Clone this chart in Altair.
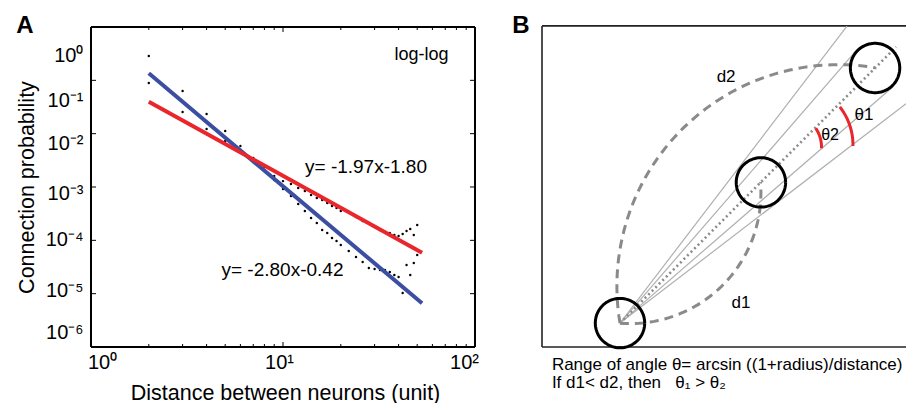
import altair as alt
import numpy as np
import pandas as pd

# ======================= Panel A data (log-log) =======================
dist = [2, 3, 4, 5, 6, 7, 8, 9, 10, 11, 12, 13, 14, 15, 16, 17, 18, 19, 20,
        22, 24, 26, 28, 30, 32, 34, 36, 38, 40, 42, 44, 46, 48, 50]
prob_upper = [0.286, 0.0631, 0.0234, 0.0112, 0.00587, 0.00350, 0.00237, 0.00161,
              0.00129, 0.00114, 0.000957, 0.000841, 0.000708, 0.000622, 0.000570,
              0.000501, 0.000440, 0.000404, 0.000355,
              0.000340, 0.000274, 0.000230, 0.000211, 0.000186, 0.000156, 0.000143,
              0.000137, 0.000126, 0.000121, 0.000131, 0.000150, 0.000163, 0.000126,
              0.000194]
prob_lower = [0.0891, 0.0255, 0.0122, 0.00728, 0.00494, 0.00294, 0.00208, 0.00135,
              0.000917, 0.000678, 0.000480, 0.000355, 0.000262, 0.000211, 0.000156,
              0.000137, 0.000111, 0.0000971, 0.0000817,
              0.0000631, 0.0000487, 0.0000393, 0.0000303, 0.0000290, 0.0000278,
              0.0000278, 0.0000255, 0.0000224, 0.0000205, 0.0000103, 0.0000344,
              0.0000224, 0.0000376, 0.0000531]

fit_dist = [2, 53]
fit_blue = [0.1355, 6.6e-6]     # y= -2.80x-0.42
fit_red = [0.0398, 5.86e-5]     # y= -1.97x-1.80

x_ticks_major = [1, 10, 100]
x_tick_labels = ["10⁰", "10¹", "10²"]
x_ticks_minor = [2, 3, 4, 5, 6, 7, 8, 9, 20, 30, 40, 50, 60, 70, 80, 90]
y_ticks_major = [1, 1e-1, 1e-2, 1e-3, 1e-4, 1e-5, 1e-6]
y_tick_labels = ["10⁰", "10⁻¹", "10⁻²", "10⁻³", "10⁻⁴", "10⁻⁵", "10⁻⁶"]

ann_text = ["log-log", "y= -1.97x-1.80", "y= -2.80x-0.42"]
ann_x = [52.65, 27.06, 9.94]
ann_y = [0.305, 0.00242, 2.72e-5]
ann_size = [18, 19, 19]

panel_a_label = ["A"]
panel_a_pos = [0.453, 1.044]

# label shifts (style)
x_label_shift = [11, -4, -11]
y_label_shift = [28, 20, 10, 6, -1, -3, -15]

WA, HA = 384, 320
FONT = "Liberation Sans"

xsA = alt.Scale(type="log", domain=[1, 100], range=[0, WA], nice=False)
ysA = alt.Scale(type="log", domain=[1e-6, 1], range=[HA, 0], nice=False)

x_lab_expr = "[" + ",".join("'%s'" % s for s in x_tick_labels) + "][round(log(datum.value)/LN10)]"
y_lab_expr = "[" + ",".join("'%s'" % s for s in y_tick_labels) + "][round(-log(datum.value)/LN10)]"
x_off_expr = "[" + ",".join(str(v) for v in x_label_shift) + "][round(log(datum.value)/LN10)]"
y_off_expr = "[" + ",".join(str(v) for v in y_label_shift) + "][round(-log(datum.value)/LN10)]"

xaxisA = alt.Axis(values=x_ticks_major, labelExpr=x_lab_expr,
                  labelOffset=alt.ExprRef(expr=x_off_expr),
                  ticks=False, domain=False, grid=False, labelFlush=False,
                  labelOverlap=False, labelFontSize=20, labelPadding=5,
                  labelColor="black", labelFont=FONT,
                  title="Distance between neurons (unit)", titleFontSize=21.5,
                  titleFontWeight="normal", titleColor="black", titleFont=FONT,
                  titleX=194, titleY=52, titleBaseline="alphabetic")
yaxisA = alt.Axis(values=y_ticks_major, labelExpr=y_lab_expr,
                  labelOffset=alt.ExprRef(expr=y_off_expr),
                  ticks=False, domain=False, grid=False, labelFlush=False,
                  labelOverlap=False, labelFontSize=20, labelPadding=8,
                  labelColor="black", labelFont=FONT,
                  title="Connection probability", titleFontSize=21.5,
                  titleFontWeight="normal", titleColor="black", titleFont=FONT,
                  titleX=-58, titleBaseline="alphabetic")


def XA(f):
    return alt.X(f, type="quantitative", scale=xsA, axis=xaxisA)


def YA(f):
    return alt.Y(f, type="quantitative", scale=ysA, axis=yaxisA)


pts = pd.DataFrame({"d": dist + dist, "p": prob_upper + prob_lower})
fits = pd.DataFrame({"d": fit_dist + fit_dist, "p": fit_blue + fit_red,
                     "fit": ["blue"] * 2 + ["red"] * 2})
frameA = pd.DataFrame({"x": [1, 1, 1, 100], "x2": [100, 100, 1, 100],
                       "y": [1, 1e-6, 1e-6, 1e-6], "y2": [1, 1e-6, 1, 1]})
anns = pd.DataFrame({"t": ann_text, "x": ann_x, "y": ann_y, "s": ann_size})

frame_a = alt.Chart(frameA).mark_rule(color="black", strokeWidth=2).encode(
    x=XA("x"), x2="x2", y=YA("y"), y2="y2")


def xticks(vals, length):
    df = pd.DataFrame({"t": vals})
    bot = alt.Chart(df).mark_rule(color="black", strokeWidth=1).encode(
        x=XA("t"), y=alt.value(HA), y2=alt.value(HA - length))
    top = alt.Chart(df).mark_rule(color="black", strokeWidth=1).encode(
        x=XA("t"), y=alt.value(0), y2=alt.value(length))
    return [bot, top]


def yticks(vals, length):
    df = pd.DataFrame({"t": vals})
    left = alt.Chart(df).mark_rule(color="black", strokeWidth=1).encode(
        y=YA("t"), x=alt.value(0), x2=alt.value(length))
    right = alt.Chart(df).mark_rule(color="black", strokeWidth=1).encode(
        y=YA("t"), x=alt.value(WA), x2=alt.value(WA - length))
    return [left, right]


tick_layers = xticks(x_ticks_minor, 3) + xticks([10], 5) + yticks(y_ticks_major[1:-1], 5)

points = alt.Chart(pts).mark_circle(size=6, color="black", opacity=1).encode(
    x=XA("d"), y=YA("p"))
lines = alt.Chart(fits).mark_line(strokeWidth=4).encode(
    x=XA("d"), y=YA("p"), detail="fit:N",
    color=alt.Color("fit:N", scale=alt.Scale(domain=["blue", "red"],
                                             range=["#3B4EA2", "#E8262B"]),
                    legend=None))
texts_a = []
for i in range(len(ann_text)):
    texts_a.append(alt.Chart(anns.iloc[[i]]).mark_text(
        font=FONT, fontSize=ann_size[i], color="black", align="center",
        baseline="middle").encode(x=XA("x"), y=YA("y"), text="t:N"))
label_a = alt.Chart(pd.DataFrame({"t": panel_a_label, "x": [panel_a_pos[0]],
                                  "y": [panel_a_pos[1]]})).mark_text(
    font=FONT, fontSize=24, fontWeight="bold", color="black", align="center",
    baseline="middle").encode(x=XA("x"), y=YA("y"), text="t:N")

panelA = alt.layer(frame_a, *tick_layers, points, lines, *texts_a, label_a)

# ======================= Panel B data (geometry diagram) =======================
circle_u = [0.0, 5.42, 9.81]
circle_v = [0.0, 5.41, 9.81]
circle_r = 0.95
tangent_end_u = [8.73, 9.10, 10.50, 11.0]
tangent_end_v = [11.42, 10.50, 9.09, 8.44]
dotted_end_u = [10.62]
dotted_end_v = [10.62]
d_arc_cu = [0.39, 8.40]      # d1, d2
d_arc_cv = [5.01, 1.42]
d_arc_r = [5.03, 8.52]
d_arc_a0 = [-94.5, 189.6]
d_arc_a1 = [4.7, 80.5]
theta_cu = [6.58, 6.46]      # theta1, theta2 (red marks)
theta_cv = [6.85, 6.77]
theta_r = [2.38, 1.29]
theta_a0 = [38.0, 34.0]
theta_a1 = [-1.0, -2.0]

b_text = ["d2", "d1", "θ1", "θ2"]
b_text_u = [4.08, 4.65, 9.38, 8.08]
b_text_v = [9.46, 0.77, 8.00, 7.23]
b_text_size = [17, 17, 17, 16]
caption = ["Range of angle θ= arcsin ((1+radius)/distance)",
           "If d1< d2, then\u00a0\u00a0 θ₁ > θ₂"]
caption_u = [-2.62, -2.62]
caption_v = [-1.62, -2.31]
panel_b_label = ["B"]
panel_b_pos = [-3.81, 11.44]

xB = [-3.0, 11.0]
yB = [-0.92, 11.43]
B_LEFT = 451                 # B frame starts 451 px right of panel A's frame
B_PX = 26                    # px per diagram unit

xsB = alt.Scale(domain=xB, range=[B_LEFT, B_LEFT + B_PX * (xB[1] - xB[0])],
                nice=False, zero=False)
ysB = alt.Scale(domain=yB, range=[HA, HA - B_PX * (yB[1] - yB[0])],
                nice=False, zero=False)


def XB(f):
    return alt.X(f, type="quantitative", scale=xsB, axis=None)


def YB(f):
    return alt.Y(f, type="quantitative", scale=ysB, axis=None)


def arc(cu, cv, r, a0, a1, ident, n=60):
    a = np.radians(np.linspace(a0, a1, n))
    return pd.DataFrame({"u": cu + r * np.cos(a), "v": cv + r * np.sin(a),
                         "o": np.arange(n), "id": ident})


frameB = pd.DataFrame({"x": [xB[0], xB[0], xB[0]], "x2": [xB[1], xB[1], xB[0]],
                       "y": [yB[1], yB[0], yB[0]], "y2": [yB[1], yB[0], yB[1]]})
frame_b = alt.Chart(frameB).mark_rule(color="#222222", strokeWidth=1.6).encode(
    x=XB("x"), x2="x2", y=YB("y"), y2="y2")

tang = pd.DataFrame({"x": [circle_u[0]] * 4, "y": [circle_v[0]] * 4,
                     "x2": tangent_end_u, "y2": tangent_end_v})
tangents = alt.Chart(tang).mark_rule(color="#b0b0b0", strokeWidth=1.2).encode(
    x=XB("x"), y=YB("y"), x2="x2", y2="y2")

dot = pd.DataFrame({"x": [circle_u[0]], "y": [circle_v[0]],
                    "x2": dotted_end_u, "y2": dotted_end_v})
dotted = alt.Chart(dot).mark_rule(color="#8c8c8c", strokeWidth=2.6,
                                  strokeDash=[2, 3]).encode(
    x=XB("x"), y=YB("y"), x2="x2", y2="y2")

darcs = pd.concat([arc(d_arc_cu[i], d_arc_cv[i], d_arc_r[i], d_arc_a0[i],
                       d_arc_a1[i], "d%d" % (i + 1)) for i in range(2)])
dashed = alt.Chart(darcs).mark_line(color="#8a8a8a", strokeWidth=3,
                                    strokeDash=[9, 6]).encode(
    x=XB("u"), y=YB("v"), order="o:Q", detail="id:N")

circs = pd.concat([arc(circle_u[i], circle_v[i], circle_r, 0, 360, "c%d" % i, 91)
                   for i in range(3)])
circles = alt.Chart(circs).mark_line(color="black", strokeWidth=3).encode(
    x=XB("u"), y=YB("v"), order="o:Q", detail="id:N")

tarcs = pd.concat([arc(theta_cu[i], theta_cv[i], theta_r[i], theta_a0[i],
                       theta_a1[i], "t%d" % (i + 1), 24) for i in range(2)])
red_arcs = alt.Chart(tarcs).mark_line(color="#E8262B", strokeWidth=3).encode(
    x=XB("u"), y=YB("v"), order="o:Q", detail="id:N")

texts_b = []
for i in range(len(b_text)):
    texts_b.append(alt.Chart(pd.DataFrame({"t": [b_text[i]], "x": [b_text_u[i]],
                                           "y": [b_text_v[i]]})).mark_text(
        font=FONT, fontSize=b_text_size[i], color="black", align="center",
        baseline="middle").encode(x=XB("x"), y=YB("y"), text="t:N"))
cap = alt.Chart(pd.DataFrame({"t": caption, "x": caption_u, "y": caption_v})).mark_text(
    font=FONT, fontSize=17, color="black", align="left", baseline="middle").encode(
    x=XB("x"), y=YB("y"), text="t:N")
label_b = alt.Chart(pd.DataFrame({"t": panel_b_label, "x": [panel_b_pos[0]],
                                  "y": [panel_b_pos[1]]})).mark_text(
    font=FONT, fontSize=24, fontWeight="bold", color="black", align="center",
    baseline="middle").encode(x=XB("x"), y=YB("y"), text="t:N")

panelB = alt.layer(frame_b, tangents, dashed, dotted, circles, red_arcs,
                   *texts_b, cap, label_b)

TOTAL_W = B_LEFT + B_PX * (xB[1] - xB[0])
chart = alt.layer(panelA, panelB).resolve_scale(
    x="independent", y="independent", color="independent"
).properties(
    width=TOTAL_W, height=HA,
    autosize=alt.AutoSizeParams(type="none"),
    padding={"left": 83, "top": 19, "right": 0, "bottom": 56}
).configure(font=FONT).configure_view(stroke="transparent")

chart.save("out.html", embed_options={"renderer": "svg", "actions": False})
